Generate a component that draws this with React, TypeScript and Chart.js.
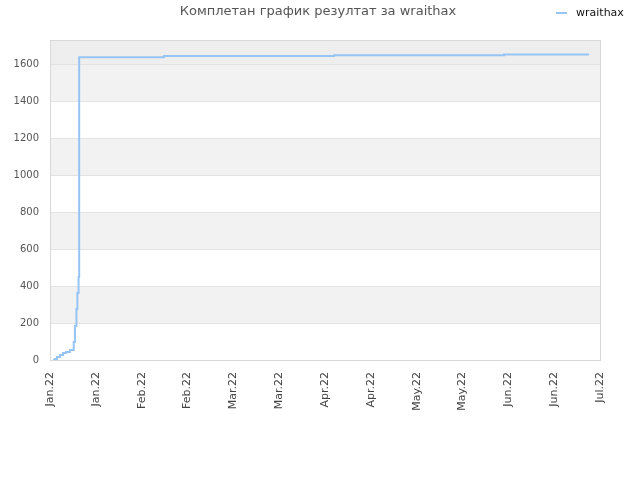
import React, { useEffect, useRef } from "react";
import { Chart, registerables } from "chart.js";

Chart.register(...registerables);

const chartTitle = "Комплетан график резултат за wraithax";
const seriesName = "wraithax";

// days since Jan 1 2022, and the running score at that moment
const days = [1.0, 1.6, 2.3, 3.3, 4.3, 5.3, 6.6, 7.8, 8.2, 8.7, 9.0, 9.4, 9.6, 37.5, 93.5, 149.4, 177.4];
const scores = [0, 5, 16, 27, 38, 43, 54, 98, 184, 277, 363, 450, 1641, 1648, 1652, 1657, 1657];

const xTickLabels = [
    "Jan.22", "Jan.22", "Feb.22", "Feb.22", "Mar.22", "Mar.22", "Apr.22",
    "Apr.22", "May.22", "May.22", "Jun.22", "Jun.22", "Jul.22",
];
const xMaxDay = 181;
const yTicks = [0, 200, 400, 600, 800, 1000, 1200, 1400, 1600];
const yMax = 1735;

const FONT = "'DejaVu Sans', sans-serif";
const LINE_COLOR = "#96c4f3";

const bandsPlugin = {
    id: "bands",
    beforeDraw(chart: any) {
        const { ctx, chartArea } = chart;
        const y = chart.scales.y;
        const edges = [...yTicks, yMax];
        ctx.save();
        for (let i = 0; i < edges.length - 1; i++) {
            const top = y.getPixelForValue(edges[i + 1]);
            const bottom = y.getPixelForValue(edges[i]);
            let fill = i % 2 === 1 ? "#f2f2f2" : "#ffffff";
            if (i === edges.length - 2) fill = "#eeeeee";
            ctx.fillStyle = fill;
            ctx.fillRect(chartArea.left, top, chartArea.right - chartArea.left, bottom - top);
        }
        ctx.restore();
    },
    afterDraw(chart: any) {
        const { ctx, chartArea } = chart;
        ctx.save();
        // plot frame
        ctx.strokeStyle = "#d8d8d8";
        ctx.lineWidth = 1;
        ctx.strokeRect(chartArea.left + 0.5, chartArea.top + 0.5, chartArea.right - chartArea.left, chartArea.bottom - chartArea.top);

        // title
        ctx.fillStyle = "#555";
        ctx.font = `13px ${FONT}`;
        ctx.textAlign = "center";
        ctx.textBaseline = "middle";
        ctx.fillText(chartTitle, 318, 12);

        // legend
        const ds = chart.data.datasets[0];
        ctx.strokeStyle = ds.borderColor;
        ctx.lineWidth = 2;
        ctx.beginPath();
        ctx.moveTo(556, 13);
        ctx.lineTo(567, 13);
        ctx.stroke();
        ctx.fillStyle = "#111";
        ctx.font = `11px ${FONT}`;
        ctx.textAlign = "left";
        ctx.fillText(ds.label, 576, 13);
        ctx.restore();
    },
};

export default function App() {
    const ref = useRef<HTMLCanvasElement | null>(null);

    useEffect(() => {
        if (!ref.current) return;

        const chart = new Chart(ref.current, {
            type: "line",
            data: {
                datasets: [
                    {
                        label: seriesName,
                        data: days.map((d, i) => ({ x: d, y: scores[i] })),
                        borderColor: LINE_COLOR,
                        borderWidth: 2,
                        stepped: true,
                        pointRadius: 0,
                        fill: false,
                    },
                ],
            },
            options: {
                animation: false,
                responsive: false,
                layout: { padding: { top: 40, right: 40, left: 0, bottom: 0 } },
                plugins: {
                    legend: { display: false },
                    title: { display: false },
                    tooltip: { enabled: false },
                },
                scales: {
                    x: {
                        type: "linear",
                        min: 0,
                        max: xMaxDay,
                        grid: { display: false, drawTicks: false },
                        border: { display: false },
                        afterBuildTicks: (scale: any) => {
                            scale.ticks = xTickLabels.map((_, i) => ({ value: (i * xMaxDay) / 12 }));
                        },
                        afterFit: (scale: any) => {
                            scale.height = 120;
                        },
                        ticks: {
                            minRotation: 90,
                            maxRotation: 90,
                            autoSkip: false,
                            padding: 12,
                            color: "#444",
                            font: { family: FONT, size: 11 },
                            callback: (_v: any, i: number) => xTickLabels[i],
                        },
                    },
                    y: {
                        min: 0,
                        max: yMax,
                        grid: { color: "#e2e2e2", drawTicks: false },
                        border: { display: false },
                        afterBuildTicks: (scale: any) => {
                            scale.ticks = yTicks.map((v) => ({ value: v }));
                        },
                        afterFit: (scale: any) => {
                            scale.width = 50;
                        },
                        ticks: {
                            padding: 11,
                            color: "#555",
                            font: { family: FONT, size: 10 },
                            callback: (v: any) => String(v),
                        },
                    },
                },
            },
            plugins: [bandsPlugin],
        });

        return () => chart.destroy();
    }, []);

    return (
        <div style={{ position: "absolute", left: 0, top: 0, width: 640, height: 480, background: "#fff" }}>
            <canvas ref={ref} width={640} height={480} />
        </div>
    );
}
